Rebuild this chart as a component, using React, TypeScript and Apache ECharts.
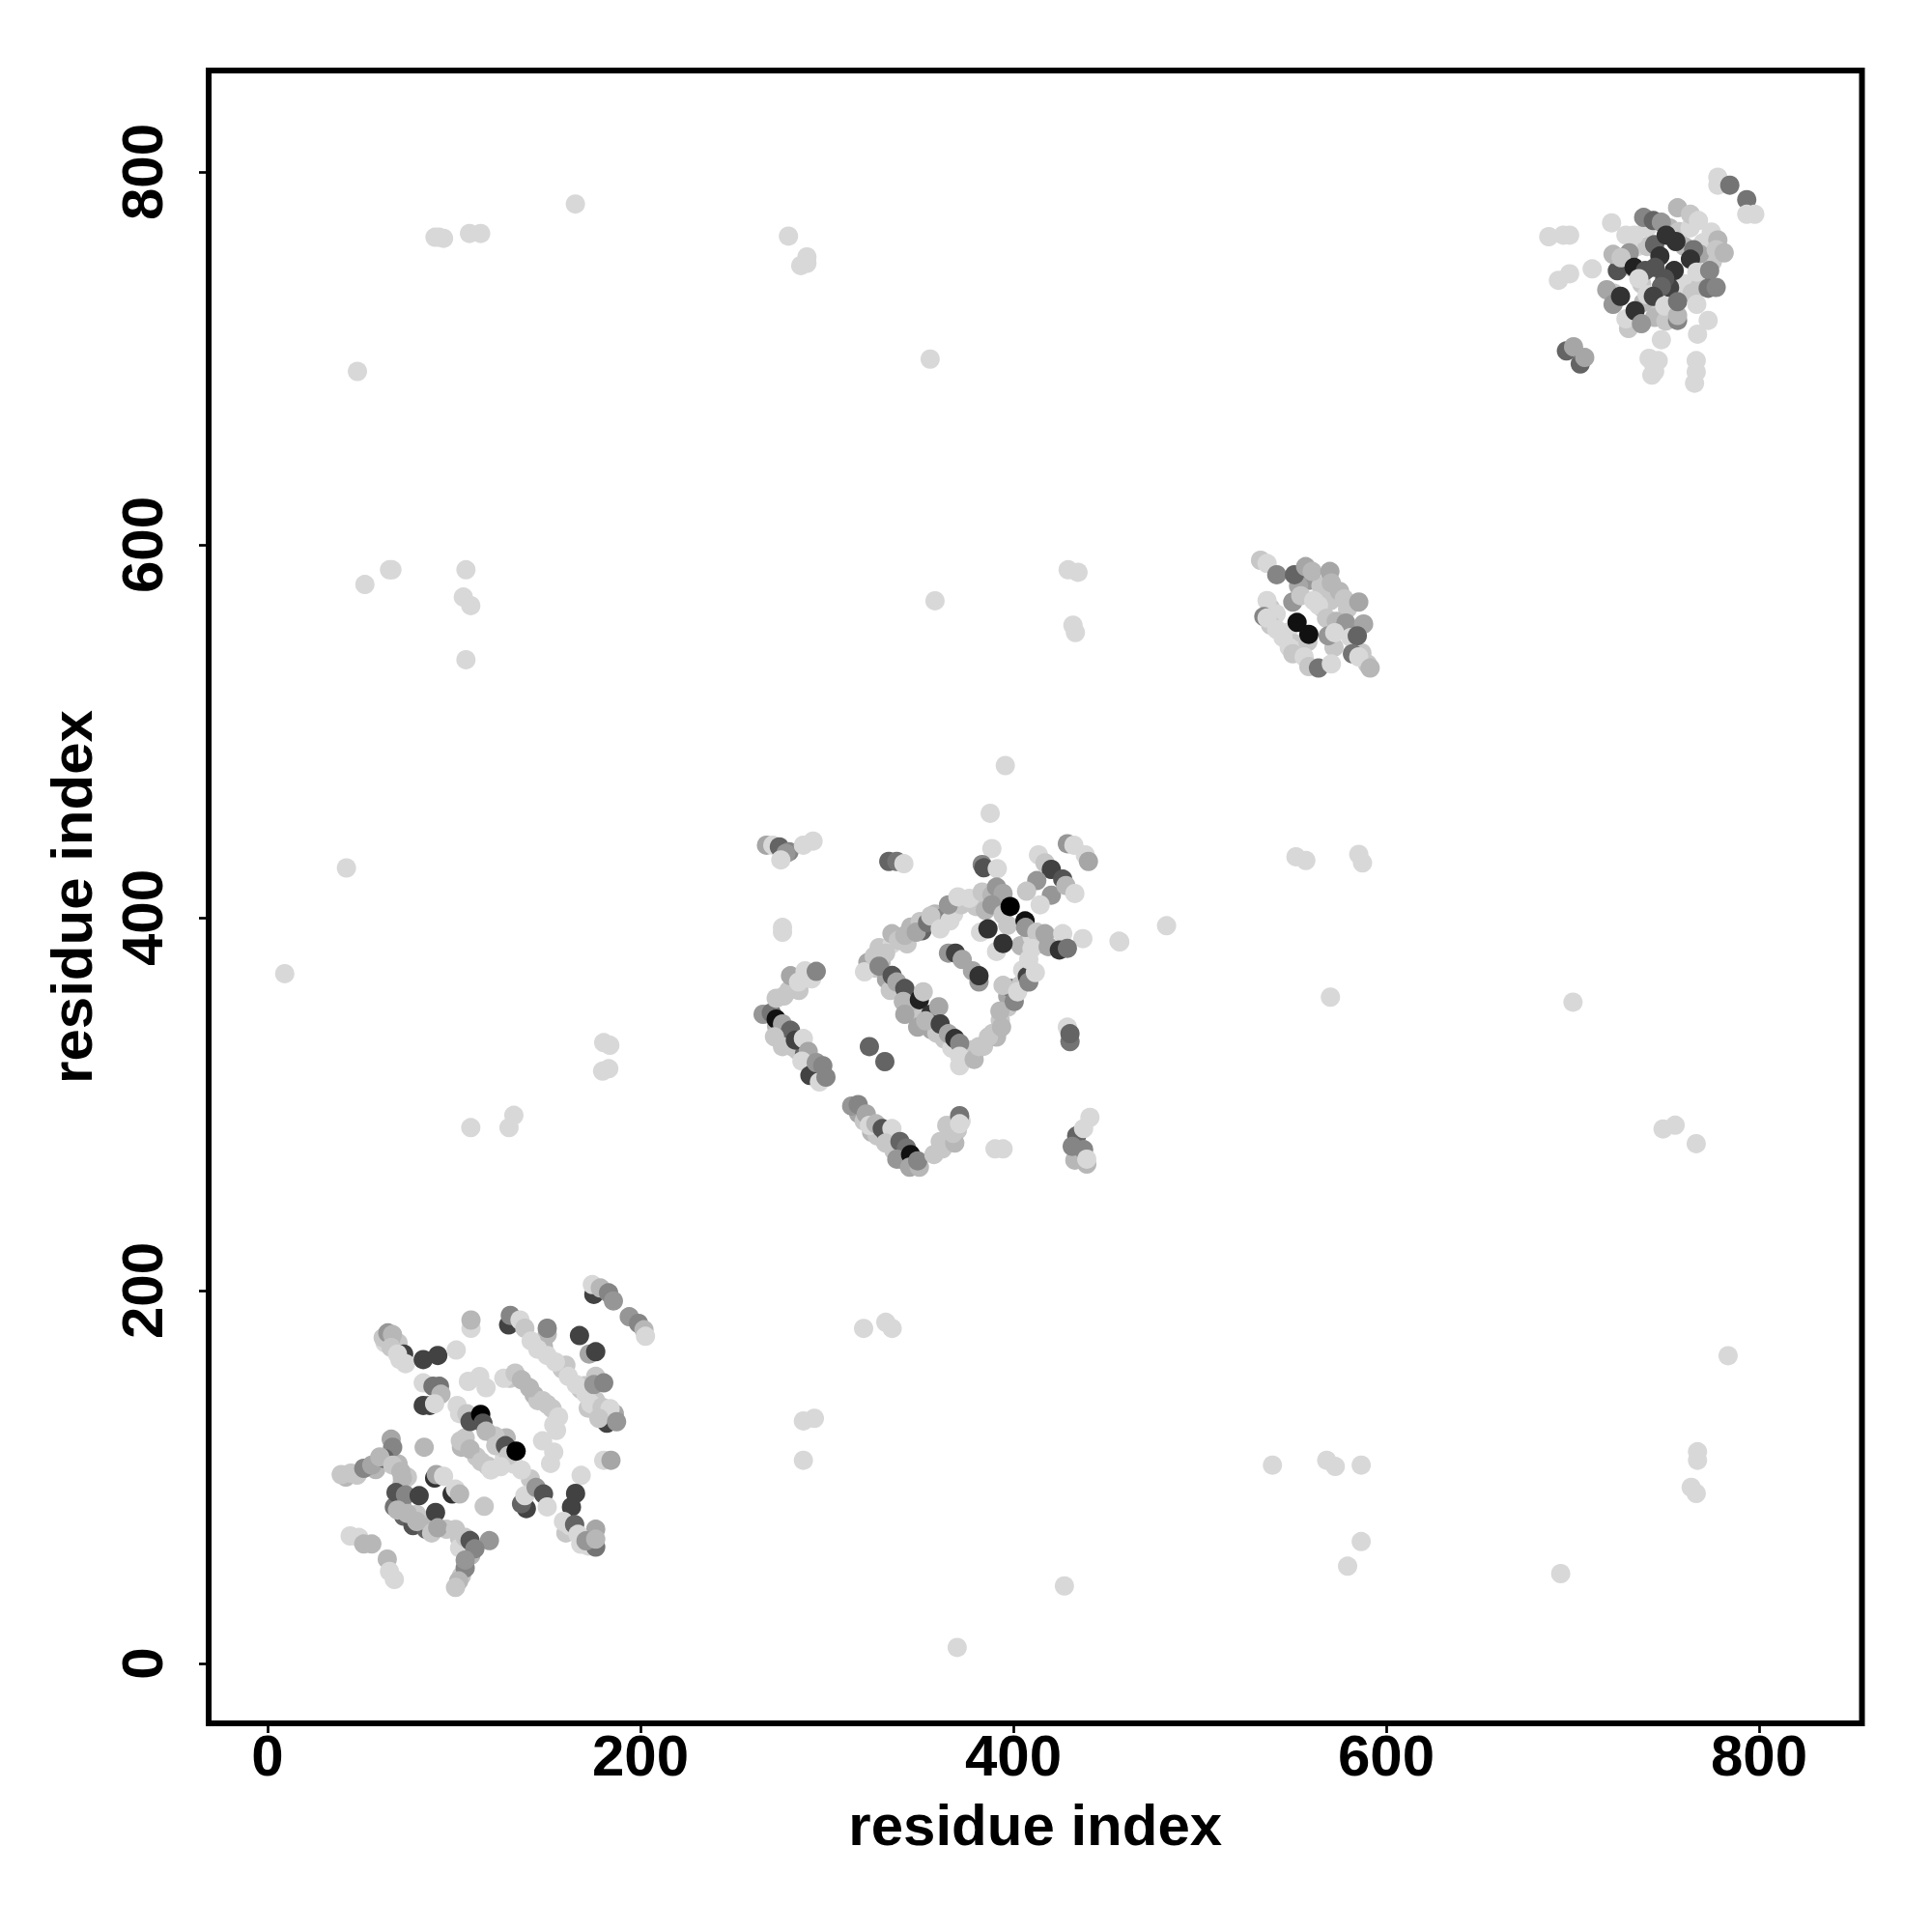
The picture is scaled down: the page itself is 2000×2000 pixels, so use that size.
import React, { useEffect, useRef } from "react";
import * as echarts from "echarts";

// [residue x, residue y, contact level 0 (weak) .. 13 (strong)]
const tickValues = [0, 200, 400, 600, 800];
const axisTitle = "residue index";

const isolated = [
  [165.1,782.8,0],[89.8,765,0],[94.4,764.4,0],[92,765,0],[108.3,767,0],[114.3,767,0],[279.4,765.6,0],[286,749.8,0],[289.3,754.4,0],[289.3,751,0],
  [48.2,693,0],[355.4,699.6,0],[52.2,578.7,0],[65.4,586.6,0],[66.7,586.6,0],[106.4,586.6,0],[105,572,0],[109,567.4,0],[106.4,538.4,0],[358,570,0],
  [429.4,586.6,0],[434.7,585.3,0],[432,556.9,0],[433.3,553,0],[395.7,481.6,0],[42.3,426.7,0],[9.2,370,0],[482.2,395.7,0],[457.1,387,0],[570.1,357.4,0],
  [700.2,354.7,0],[551.6,432.7,0],[556.9,430.7,0],[585.3,434,0],[587.3,429.4,0],[180.3,333,0],[183.6,331.6,0],[179.7,317.7,0],[183,319,0],[109,287.4,0],
  [129.5,287.4,0],[132.1,294,0],[748.5,286.7,0],[755,288.7,0],[766.3,278.8,0],[319.7,179.7,0],[331.6,183,0],[335,179.7,0],[287.4,130.1,0],[293.3,131.5,0],
  [287.4,109,0],[783.4,165.1,0],[767,113.6,0],[767,109,0],[763.6,94.5,0],[766.3,91.2,0],[539,106.4,0],[568.1,109,0],[572.7,105.7,0],[586.6,106.4,0],
  [586.6,65.4,0],[579.3,52.2,0],[427.4,41.6,0],[693.6,48.2,0],[369.9,8.6,0],
];

const clusterLow = [
  [175,198,9],[174.2,203.2,0],[178.5,201.4,2],[182.9,198.8,5],[185.5,194.5,4],[194,186,4],[199,182.4,5],[201.9,179,2],[202.7,175.5,0],
  [129.3,181.6,9],[130.2,186.7,5],[135.4,184.2,0],[138,179.8,1],[150,176.4,2],[150,179.8,5],[141.4,173,0],[144.9,168.6,0],[150,165.2,0],[154.4,161.7,0],
  [161.3,154,0],[165.6,149.6,0],[170.8,144.4,0],[175,149.6,4],[180.3,150.5,5],[173.4,139.3,0],[182,128.9,9],[179.4,137.5,1],[183.7,136.7,0],[177.7,131.5,1],[187.2,129.7,4],
  [172.5,166,3],[167.3,175.9,9],[176,167.2,9],
  [126.7,153,0],[132.8,155.7,1],[136.2,152.2,2],[140.5,147.9,2],[147.5,141,1],[152.6,136.7,1],[153.5,128,0],[156.1,132.3,0],
  [62,174.7,1],[64.5,177.3,4],[67,176.4,2],[66.3,169.5,1],[73,166,9],[69.7,166,0],[74,160.8,0],[83.5,163,9],[91.3,165.2,9],[101.2,168.1,0],
  [109.1,179.8,0],[109.1,184.2,2],[107.7,151.3,0],[113.8,153.9,0],[117.2,147.9,0],
  [83.5,150.5,0],[88.7,148.7,6],[92.2,148.7,6],[93,144.4,2],[83.5,138.4,9],[87,138.4,9],[89.6,139.3,0],
  [101.7,138.4,0],[106.9,134,1],[108.6,129.8,8],[114.3,133.6,13],[115.5,128.9,8],[117.2,124.6,2],[122.4,116.8,1],[127.6,116.8,8],[129.3,111.6,1],[133.3,113.9,13],[136.2,103.8,0],
  [103.4,119.4,1],[108.6,115,2],[114.6,108.2,1],[119.8,103.8,0],[125,105.6,0],
  [147.5,119.4,0],[151.8,107.3,0],[153.5,113.4,0],[180.3,109,0],[184.2,109,3],[168.2,100.9,0],[165.2,91.2,9],[163,84,9],
  [158.7,76.2,0],[164.7,74.5,7],[166.5,69.3,0],[176,62.4,6],[170.8,65.8,4],[176,66.7,2],
  [138.8,83.1,9],[136.2,85.7,7],[138,90,0],[144,94.4,4],[148,90.9,8],[150,84,0],
  [84,116,2],[66.3,120.3,3],[67.1,116,5],[39.5,101.3,1],[44.7,102.1,1],[51.6,104.7,5],[55.9,106.4,3],[62.8,109.9,7],[60.2,110.8,2],[67.1,106.4,1],[71.5,103,2],[72.3,99.5,2],
  [68.9,91.7,8],[74,90.4,5],[81.3,90,9],[69.7,82.3,2],[74.9,80.5,2],[80,76.2,2],[90.1,81,9],[91.3,72.8,3],[100.8,71.9,1],[106,67.6,1],[108.6,65.9,8],[119,65.9,4],[111.2,61.5,5],
  [106,51.2,5],[106,55.5,4],[102.5,44.3,2],[100.8,40.8,1],[89.6,99.5,10],[90.5,101.3,3],[94.4,100.4,0],[99,90.9,10],[100.8,93.5,0],[103,90.9,2],[116.2,84.3,1],
  [44.3,68.4,0],[49,67.6,0],[51.6,64.1,2],[55.9,64.1,2],[64.2,56,2],[65.4,49.4,0],[68,45.1,0],
];

const clusterMid = [
  [267.6,438.9,3],[271,438.9,0],[274.5,438,7],[279.7,435.4,5],[278,434.5,4],[275.3,431,0],[287.4,438.9,0],[292.6,441.1,0],
  [333.2,430.2,7],[337.5,430.2,6],[341.3,429,0],[388.5,437.1,0],[387.6,456,0],[383.3,428.5,5],[384.2,426.8,8],[391.4,426.3,0],
  [413.5,433.7,0],[417,429.4,1],[420.4,425.9,9],[426.5,420.7,8],[429,439.7,4],[432.5,438.9,0],[438.6,433.7,0],[440.3,430.2,3],
  [412.6,419.9,4],[407.1,414.2,1],[420.4,412.1,4],[414.4,406.9,0],[428.2,417.3,2],[433,413,0],
  [382.4,392.2,0],[391,381.9,0],[386.4,394,10],[394.5,386.2,10],[406.3,398.3,12],
  [320.2,371,0],[325.4,379.3,1],[331.5,381,1],[334.9,391.4,2],[338.4,387.9,1],[341.8,390.5,2],[347.9,392.2,3],[354,397.4,6],[355.7,400.9,1],[360.8,394,0],[366,398.3,0],[365.2,406.9,4],
  [370.3,411.2,0],[376.4,410.4,0],[383.3,413.8,1],[388.5,412.1,2],[391,416.4,4],[394.5,413,3],[388.5,406.9,4],[394.5,401.7,1],[398.3,406,13],
  [328,374,5],[335,369,8],[337.5,365.5,3],[341.8,362,8],[341,355.1,2],[341.8,348.2,3],[349.6,356,11],[351.7,360.3,1],[355.7,348.2,10],[360,352.2,3],[348.7,341.3,3],[353,344.7,2],
  [360.8,343,9],[365.2,337.8,3],[368.6,335.2,10],[371.2,332.6,5],[371.2,325.7,0],[371.2,320.6,0],
  [379,324,2],[381.6,330.9,1],[386.7,336.1,1],[393.7,341.3,2],[392.8,349.9,2],[400.5,355.1,5],[394.5,363.7,1],[402.3,360.3,0],[407.5,368.6,9],[408.3,365.5,5],[411.8,370.6,0],[408.3,377.6,0],
  [365.2,381,4],[369,381,9],[372.6,377.6,3],[378.1,371.5,3],[381.6,365.5,4],[381.6,368.9,10],
  [406.6,394.8,4],[412.6,392.2,1],[417,391.4,3],[410,383.6,0],[418.7,384.5,3],[426.5,391.4,0],[437.3,388.8,0],[424.7,382.7,10],[429,383.6,6],[456.7,387.4,0],
  [276.2,392.2,0],[276.2,394.8,0],[322.8,330.9,7],[331.1,322.8,7],[429,341.3,0],[430.4,333.5,6],[430.4,337.8,7],
  [265.8,348.2,4],[270.2,349,6],[272.8,345.6,12],[276.2,343,3],[280.5,339.6,7],[271.9,336.1,1],[276.2,330.9,1],[283.1,334.4,9],[287.4,335.2,0],[290,328.3,3],[286.6,323.1,0],[290.9,315.4,9],[294.3,322.3,4],[296,311.9,0],[297.8,320.6,5],[299.5,314.5,5],
  [272.8,356.8,1],[279.7,361.1,1],[280.5,368.9,3],[284.8,365.5,0],[288.3,371.5,0],[291.8,367.2,0],[294.3,371.2,5],
  [313.3,299,4],[316.8,299.8,5],[321.1,294.7,3],[322.8,288.6,0],[326.3,289.5,2],[329.7,286.9,8],[334.9,286.9,0],[331.5,279.1,1],[339.2,280,7],[342.7,276.5,6],[337.5,270.5,4],[344.9,273,12],[344.4,266.2,3],[349.6,266.2,2],[348.7,269.6,5],
  [357.4,273,1],[360.8,280,1],[368.6,279.1,2],[364.3,288.6,1],[371.2,293.8,6],[367.7,284.3,1],[371.2,289.5,0],
  [390.2,276,0],[394.5,276,0],[441.1,292.9,0],[437.7,286.9,0],[431.6,277.4,5],[437.7,275.6,5],[439.4,267.9,2],[439.4,270.5,0],
];

const clusterUpperMid = [
  [532.6,591.7,1],[536.1,590,0],[541.3,584,5],[550.8,584,7],[556.8,588.3,3],[560.3,585.7,2],[569.8,585.7,3],[570.6,579.6,2],
  [549.9,569.3,4],[554.2,572.7,1],[561.1,570.1,0],[563.7,567.6,0],[536.1,570.1,0],[577.5,571,1],[579.3,565.8,1],[585.3,569.3,3],
  [534.4,561.5,5],[536.1,560.7,0],[541.3,554.6,0],[544.7,550.3,0],[552.2,558.4,12],[558.5,552,12],[568,560.6,1],[573.2,558.9,2],[578.4,558.1,4],[587.9,557.5,3],
  [568.9,551.2,4],[572.4,552.9,0],[581,550.3,0],[584.5,551.2,7],[581.9,541.6,6],[585.3,539.9,0],[591.4,533.9,2],
  [549.9,541.6,1],[556,539.9,0],[558.5,534.7,1],[563.7,533.9,6],[570.6,536.1,0],
];

const clusterTop = [
  [777.9,797.2,0],[777.9,792.9,0],[784.3,792.9,6],[793.4,785.1,6],[793.4,777.3,0],[797.7,777.3,0],[720.9,772.7,0],[756.3,780.8,2],[763.2,777.3,1],[767.5,773.9,0],
  [738.1,775.6,5],[743.3,773.9,7],[747.6,773,4],[728.6,766.1,0],[733,766.1,0],[687.2,765.3,0],[695,766.1,0],[698.4,766.1,0],[750.2,766.1,10],[755.4,762.7,10],
  [774.4,767.8,0],[777.9,763.5,2],[777,758.3,1],[781.3,756.6,2],[764.9,758.3,6],[763.2,753.2,10],[746.8,754.9,10],[730.4,756.6,4],[721.7,755.8,2],[726,754,1],
  [710.5,748,0],[698.4,745.4,0],[692.4,741.9,0],[733,748.8,11],[739,747.1,8],[744.2,748.8,8],[754.5,747.1,10],[766.6,746.3,0],[773.5,747.1,5],[772.7,737.6,6],[777,738.1,5],
  [749.4,742.8,8],[735.5,742.8,0],[747.6,738.5,7],[718.3,736.8,3],[721.7,729,4],[725.7,733.3,10],[739.9,734.2,0],[743.3,733.3,9],[749.4,728.1,0],[756.3,720.4,5],[756.3,723,2],[756.3,730.4,6],
  [766.6,729,0],[772.7,720.4,0],[728.6,721.2,0],[733.5,725.5,10],[736.9,718.6,4],[747.6,710,0],[743.3,697,0],[745.9,698.8,0],[742.5,691,0],[766.3,698.8,0],[766.3,692.7,0],[765.4,686.7,0],
  [696.7,704,7],[700.5,706.2,3],[704.1,697,7],[706.5,700.5,3],
];

// extra residues filling the dense stripes, read between the marks above
const fillLow = [
  [158,158,1],[148,170,2],[168,147,1],[143,144,2],[150,139,1],[130,153,1],[128,121,2],[122,122,1],[112,111,1],[118,106,1],[106,121,1],[104,116,2],
  [127,110,0],[132,107,0],[141,99,1],[103,134,0],[111,131,1],[70,172,1],[66,173,2],[71,163,0],[63,172,0],[72,96,1],[75,100,1],[70,107,2],[72,85,3],[68,84,6],[73,79,7],[78,74,8],[85,72,7],[83,77,2],[80,80,1],[88,70,1],[96,72,1],[103,67,1],[109,58,2],[104,47,1],[103,62,0],
  [176,154,1],[170,149,1],[176,141,1],[160,160,1],[172,137,1],[180,133,2],[186,134,3],[160,70,1],[162,74,0],[168,64,0],[172,63,0],[176,72,3],[145,141,1],[155,125,0],[42,100,2],[48,101,1],[58,104,2],
];
const fillMid = [
  [326,373,1],[329,376,2],[322,376,3],[328,384,1],[335,386,0],[343,386,1],[345,395,2],[351,393,7],[350,398,1],[358,402,2],[362,400,5],[368,402,0],[372,407,1],[380,406,1],[385,404,2],[392,408,2],[397,396,1],
  [332,367,3],[334,361,1],[344,358,4],[345,352,2],[350,346,1],[356,340,3],[359,338,1],[363,335,1],[367,330,0],[375,325,1],[377,329,1],[384,331,1],[389,338,1],[391,336,2],[393,345,1],[397,352,1],[397,358,3],[399,362,6],[404,364,1],[405,372,0],[404,385,2],[410,390,0],[414,386,3],[408,375,0],
  [273,342,2],[276,339,1],[279,336,5],[281,331,2],[284,329,1],[288,327,7],[292,319,1],[294,316,2],[285,361,1],[277,358,1],[283,367,1],[290,370,2],
  [317,295,3],[320,291,1],[324,285,2],[327,283,1],[332,283,6],[336,275,1],[341,270,3],[346,268,8],[362,276,1],[366,281,1],[370,286,1],[372,291,0],[434,283,7],[433,270,2],
];
const fillTop = [
  [752,770,2],[757,768,1],[763,770,0],[770,762,0],[775,752,1],[740,770,0],[735,760,0],[728,752,6],[731,749,0],[724,747,8],[737,740,1],[740,760,1],[744,761,7],[760,740,0],[764,735,1],[768,738,1],[752,738,9],[746,726,1],[744,722,2],[752,726,0],[760,760,2],[768,756,3],[738,730,2],[750,720,1],[730,716,1],[722,735,1],[767,713,0],[741,700,0],[744,693,0],
];
const fillUpperMid = [
  [538,566,1],[541,563,0],[538,557,1],[547,553,0],[551,547,1],[553,543,0],[548,545,0],[558,548,1],[566,566,1],[570,570,1],[575,575,2],[572,545,1],[590,536,1],[587,542,1],[559,581,4],[553,578,3],[565,578,1],
];

const FONT = '"Liberation Sans", Arial, sans-serif';

export default function App() {
  const ref = useRef<HTMLDivElement>(null);
  useEffect(() => {
    const chart = echarts.init(ref.current!, undefined, { renderer: "svg" });
    const label = { fontFamily: FONT, fontWeight: "bold" as const, fontSize: 60, color: "#000" };
    const tick = { show: true, length: 10, lineStyle: { color: "#000", width: 2.7 }, customValues: tickValues };
    chart.setOption({
      animation: false,
      backgroundColor: "#fff",
      grid: { left: 216, top: 73, width: 1711.5, height: 1711, show: true, borderColor: "#000", borderWidth: 6, backgroundColor: "#fff" },
      xAxis: {
        type: "value", min: -31.6, max: 855.2, splitLine: { show: false }, axisLine: { show: false, onZero: false },
        axisTick: tick,
        axisLabel: { ...label, margin: 3, customValues: tickValues },
        name: axisTitle, nameLocation: "middle", nameGap: 75,
        nameTextStyle: label,
      },
      yAxis: {
        type: "value", min: -32.1, max: 854.4, splitLine: { show: false }, axisLine: { show: false, onZero: false },
        axisTick: tick,
        axisLabel: { ...label, margin: 39, rotate: 90, customValues: tickValues },
        name: axisTitle, nameLocation: "middle", nameGap: 112,
        nameTextStyle: label,
      },
      visualMap: {
        show: false, type: "continuous", dimension: 2, min: 0, max: 13, seriesIndex: 0,
        inRange: { color: ["#d8d8d8", "#000000"] },
      },
      series: [
        {
          type: "scatter",
          data: [...isolated, ...fillLow, ...fillMid, ...fillUpperMid, ...fillTop, ...clusterLow, ...clusterMid, ...clusterUpperMid, ...clusterTop],
          symbol: "circle",
          symbolSize: 20,
          clip: false,
          progressive: 0,
          large: false,
          itemStyle: { opacity: 1 },
        },
      ],
    });
    return () => chart.dispose();
  }, []);
  return <div ref={ref} style={{ position: "absolute", left: 0, top: 0, width: 2000, height: 2000 }} />;
}
